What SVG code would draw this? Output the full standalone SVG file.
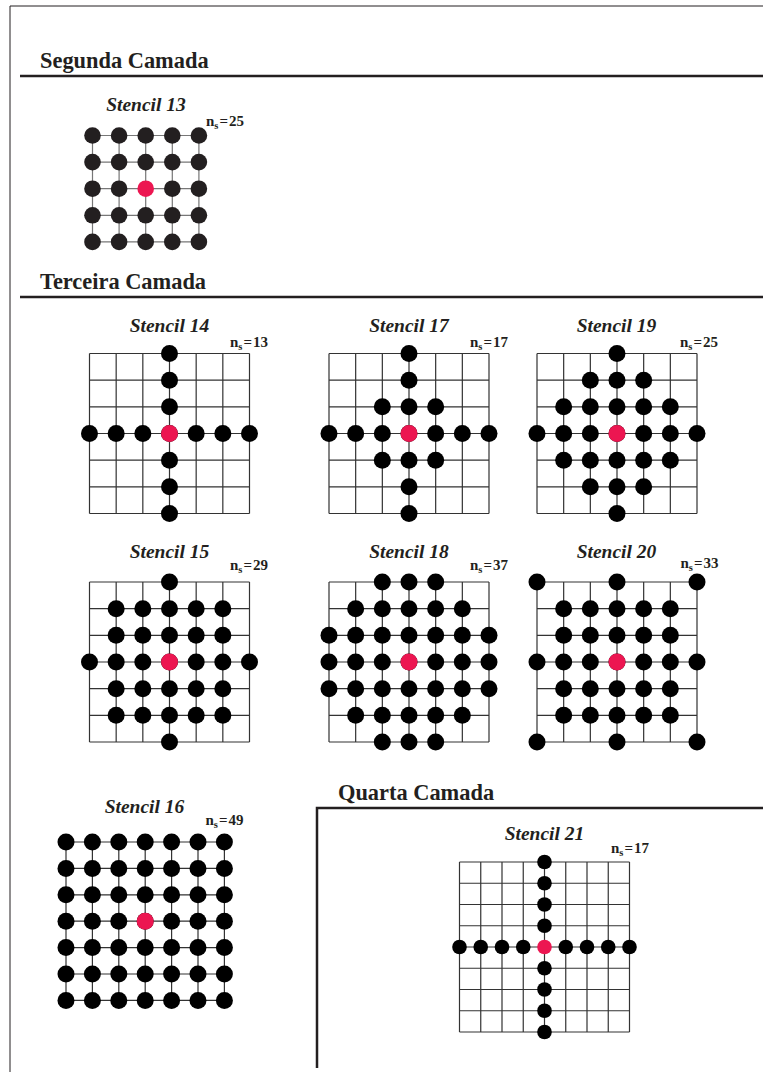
<svg xmlns="http://www.w3.org/2000/svg" xmlns:xlink="http://www.w3.org/1999/xlink" width="763" height="1072" viewBox="0 0 763 1072">
<style>
.hd{font-family:"Liberation Serif","Times New Roman",serif;font-weight:bold;font-size:22.4px;fill:#231f20}
.tt{font-family:"Liberation Serif","Times New Roman",serif;font-weight:bold;font-style:italic;font-size:19.5px;fill:#231f20;text-anchor:middle}
.ns{font-family:"Liberation Serif","Times New Roman",serif;font-weight:bold;font-size:15px;fill:#231f20}
.sub{font-size:10.5px}
.grid{fill:none;stroke:#333;stroke-width:1.2}
.rule{stroke:#231f20;stroke-width:2.5;fill:none}
.red{fill:#ec1651}
</style>
<defs>
<circle id="dot" r="8.5" fill="#000"/>
<circle id="dotr" r="8.5" fill="#ec1651"/>
<path id="g6" class="grid" d="M0 0H160M0 26.67H160M0 53.33H160M0 80H160M0 106.67H160M0 133.33H160M0 160H160M0 0V160M26.67 0V160M53.33 0V160M80 0V160M106.67 0V160M133.33 0V160M160 0V160"/>
<g id="r7"><use href="#dot" x="0"/><use href="#dot" x="26.67"/><use href="#dot" x="53.33"/><use href="#dot" x="80"/><use href="#dot" x="106.67"/><use href="#dot" x="133.33"/><use href="#dot" x="160"/></g>
<g id="r5"><use href="#dot" x="26.67"/><use href="#dot" x="53.33"/><use href="#dot" x="80"/><use href="#dot" x="106.67"/><use href="#dot" x="133.33"/></g>
<g id="r3"><use href="#dot" x="53.33"/><use href="#dot" x="80"/><use href="#dot" x="106.67"/></g>
<g id="r1"><use href="#dot" x="80"/></g>
</defs>

<g id="frame">
<path d="M10 6H763M10 6V1072" stroke="#231f20" stroke-width="1" fill="none"/>
</g>

<g id="segunda">
<text class="hd" x="40" y="68">Segunda Camada</text>
<path class="rule" d="M20 76H763"/>
</g>

<g id="stencil13">
<text class="tt" x="146" y="111">Stencil 13</text>
<text class="ns" x="206" y="126">n<tspan class="sub" dy="3">s</tspan><tspan dy="-3" dx="1">=</tspan><tspan dx="1">25</tspan></text>
<g transform="translate(92.5,135.5)">
<path class="grid" d="M0 0H106.4M0 26.6H106.4M0 53.2H106.4M0 79.8H106.4M0 106.4H106.4M0 0V106.4M26.6 0V106.4M53.2 0V106.4M79.8 0V106.4M106.4 0V106.4" style="stroke:#777"/>
<g fill="#231f20">
<circle r="8.3" cx="0" cy="0"/><circle r="8.3" cx="26.6" cy="0"/><circle r="8.3" cx="53.2" cy="0"/><circle r="8.3" cx="79.8" cy="0"/><circle r="8.3" cx="106.4" cy="0"/>
<circle r="8.3" cx="0" cy="26.6"/><circle r="8.3" cx="26.6" cy="26.6"/><circle r="8.3" cx="53.2" cy="26.6"/><circle r="8.3" cx="79.8" cy="26.6"/><circle r="8.3" cx="106.4" cy="26.6"/>
<circle r="8.3" cx="0" cy="53.2"/><circle r="8.3" cx="26.6" cy="53.2"/><circle r="8.3" cx="79.8" cy="53.2"/><circle r="8.3" cx="106.4" cy="53.2"/>
<circle r="8.3" cx="0" cy="79.8"/><circle r="8.3" cx="26.6" cy="79.8"/><circle r="8.3" cx="53.2" cy="79.8"/><circle r="8.3" cx="79.8" cy="79.8"/><circle r="8.3" cx="106.4" cy="79.8"/>
<circle r="8.3" cx="0" cy="106.4"/><circle r="8.3" cx="26.6" cy="106.4"/><circle r="8.3" cx="53.2" cy="106.4"/><circle r="8.3" cx="79.8" cy="106.4"/><circle r="8.3" cx="106.4" cy="106.4"/>
</g>
<circle class="red" r="8.3" cx="53.2" cy="53.2"/>
</g>
</g>

<g id="terceira">
<text class="hd" x="40" y="289">Terceira Camada</text>
<path class="rule" d="M20 297H763"/>
</g>

<g id="stencil14">
<text class="tt" x="169.5" y="332">Stencil 14</text>
<text class="ns" x="230" y="346.5">n<tspan class="sub" dy="3">s</tspan><tspan dy="-3" dx="1">=</tspan><tspan dx="1">13</tspan></text>
<g transform="translate(89.5,353.5)">
<use href="#g6"/>
<use href="#r1" y="0"/><use href="#r1" y="26.67"/><use href="#r1" y="53.33"/>
<use href="#r7" y="80"/>
<use href="#r1" y="106.67"/><use href="#r1" y="133.33"/><use href="#r1" y="160"/>
<use href="#dotr" x="80" y="80"/>
</g>
</g>

<g id="stencil17">
<text class="tt" x="409" y="332">Stencil 17</text>
<text class="ns" x="470" y="346.5">n<tspan class="sub" dy="3">s</tspan><tspan dy="-3" dx="1">=</tspan><tspan dx="1">17</tspan></text>
<g transform="translate(329,353.5)">
<use href="#g6"/>
<use href="#r1" y="0"/><use href="#r1" y="26.67"/><use href="#r3" y="53.33"/>
<use href="#r7" y="80"/>
<use href="#r3" y="106.67"/><use href="#r1" y="133.33"/><use href="#r1" y="160"/>
<use href="#dotr" x="80" y="80"/>
</g>
</g>

<g id="stencil19">
<text class="tt" x="616.5" y="332">Stencil 19</text>
<text class="ns" x="680" y="346.5">n<tspan class="sub" dy="3">s</tspan><tspan dy="-3" dx="1">=</tspan><tspan dx="1">25</tspan></text>
<g transform="translate(537,353.5)">
<use href="#g6"/>
<use href="#r1" y="0"/><use href="#r3" y="26.67"/><use href="#r5" y="53.33"/>
<use href="#r7" y="80"/>
<use href="#r5" y="106.67"/><use href="#r3" y="133.33"/><use href="#r1" y="160"/>
<use href="#dotr" x="80" y="80"/>
</g>
</g>

<g id="stencil15">
<text class="tt" x="169.5" y="558">Stencil 15</text>
<text class="ns" x="230" y="570">n<tspan class="sub" dy="3">s</tspan><tspan dy="-3" dx="1">=</tspan><tspan dx="1">29</tspan></text>
<g transform="translate(89.5,582)">
<use href="#g6"/>
<use href="#r1" y="0"/><use href="#r5" y="26.67"/><use href="#r5" y="53.33"/>
<use href="#r7" y="80"/>
<use href="#r5" y="106.67"/><use href="#r5" y="133.33"/><use href="#r1" y="160"/>
<use href="#dotr" x="80" y="80"/>
</g>
</g>

<g id="stencil18">
<text class="tt" x="409" y="558">Stencil 18</text>
<text class="ns" x="470" y="570">n<tspan class="sub" dy="3">s</tspan><tspan dy="-3" dx="1">=</tspan><tspan dx="1">37</tspan></text>
<g transform="translate(329,582)">
<use href="#g6"/>
<use href="#r3" y="0"/><use href="#r5" y="26.67"/><use href="#r7" y="53.33"/>
<use href="#r7" y="80"/>
<use href="#r7" y="106.67"/><use href="#r5" y="133.33"/><use href="#r3" y="160"/>
<use href="#dotr" x="80" y="80"/>
</g>
</g>

<g id="stencil20">
<text class="tt" x="616.5" y="558">Stencil 20</text>
<text class="ns" x="680.5" y="567.5">n<tspan class="sub" dy="3">s</tspan><tspan dy="-3" dx="1">=</tspan><tspan dx="1">33</tspan></text>
<g transform="translate(537,582)">
<use href="#g6"/>
<use href="#dot" x="0" y="0"/><use href="#dot" x="80" y="0"/><use href="#dot" x="160" y="0"/>
<use href="#r5" y="26.67"/><use href="#r5" y="53.33"/>
<use href="#r7" y="80"/>
<use href="#r5" y="106.67"/><use href="#r5" y="133.33"/>
<use href="#dot" x="0" y="160"/><use href="#dot" x="80" y="160"/><use href="#dot" x="160" y="160"/>
<use href="#dotr" x="80" y="80"/>
</g>
</g>

<g id="stencil16">
<text class="tt" x="144.5" y="813">Stencil 16</text>
<text class="ns" x="205.5" y="825">n<tspan class="sub" dy="3">s</tspan><tspan dy="-3" dx="1">=</tspan><tspan dx="1">49</tspan></text>
<g transform="translate(66,842)">
<path class="grid" d="M0 0H158.4M0 26.4H158.4M0 52.8H158.4M0 79.2H158.4M0 105.6H158.4M0 132H158.4M0 158.4H158.4M0 0V158.4M26.4 0V158.4M52.8 0V158.4M79.2 0V158.4M105.6 0V158.4M132 0V158.4M158.4 0V158.4"/>
<g id="s16row">
<use href="#dot" x="0"/><use href="#dot" x="26.4"/><use href="#dot" x="52.8"/><use href="#dot" x="79.2"/><use href="#dot" x="105.6"/><use href="#dot" x="132"/><use href="#dot" x="158.4"/>
</g>
<use href="#s16row" y="26.4"/><use href="#s16row" y="52.8"/><use href="#s16row" y="79.2"/><use href="#s16row" y="105.6"/><use href="#s16row" y="132"/><use href="#s16row" y="158.4"/>
<use href="#dotr" x="79.2" y="79.2"/>
</g>
</g>

<g id="quarta">
<text class="hd" x="338" y="800">Quarta Camada</text>
<path class="rule" d="M317 1068V808H763"/>
</g>

<g id="stencil21">
<text class="tt" x="544.5" y="840">Stencil 21</text>
<text class="ns" x="611" y="853">n<tspan class="sub" dy="3">s</tspan><tspan dy="-3" dx="1">=</tspan><tspan dx="1">17</tspan></text>
<g transform="translate(459.5,862)">
<path class="grid" d="M0 0H170M0 21.25H170M0 42.5H170M0 63.75H170M0 85H170M0 106.25H170M0 127.5H170M0 148.75H170M0 170H170M0 0V170M21.25 0V170M42.5 0V170M63.75 0V170M85 0V170M106.25 0V170M127.5 0V170M148.75 0V170M170 0V170"/>
<g fill="#000">
<circle r="7.3" cx="85" cy="0"/><circle r="7.3" cx="85" cy="21.25"/><circle r="7.3" cx="85" cy="42.5"/><circle r="7.3" cx="85" cy="63.75"/>
<circle r="7.3" cx="85" cy="106.25"/><circle r="7.3" cx="85" cy="127.5"/><circle r="7.3" cx="85" cy="148.75"/><circle r="7.3" cx="85" cy="170"/>
<circle r="7.3" cx="0" cy="85"/><circle r="7.3" cx="21.25" cy="85"/><circle r="7.3" cx="42.5" cy="85"/><circle r="7.3" cx="63.75" cy="85"/>
<circle r="7.3" cx="106.25" cy="85"/><circle r="7.3" cx="127.5" cy="85"/><circle r="7.3" cx="148.75" cy="85"/><circle r="7.3" cx="170" cy="85"/>
</g>
<circle class="red" r="7.3" cx="85" cy="85"/>
</g>
</g>
</svg>
